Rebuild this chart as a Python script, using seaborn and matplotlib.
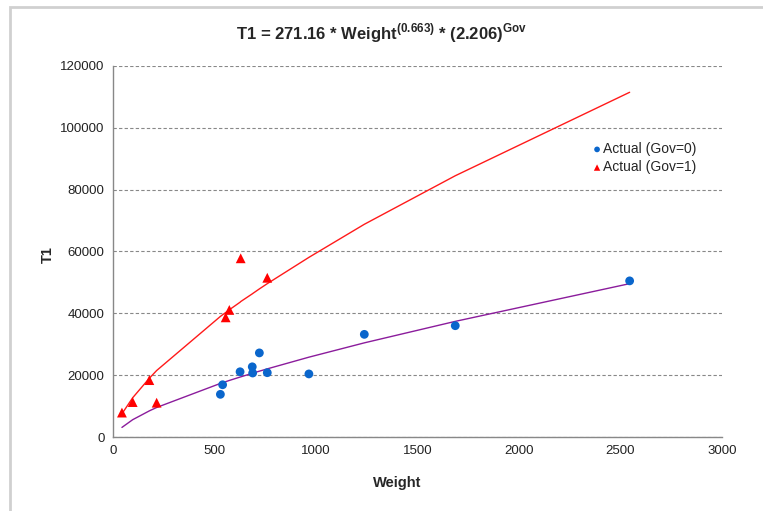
import matplotlib
matplotlib.use("Agg")
import matplotlib.pyplot as plt
import pandas as pd
import seaborn as sns
from matplotlib.patches import Rectangle

# observed points
weight_gov0 = [529, 540, 626, 686, 688, 721, 760, 965, 1238, 1686, 2545]
t1_gov0 = [13800, 16900, 21100, 22700, 20700, 27200, 20800, 20400, 33200, 36000, 50500]
weight_gov1 = [44, 97, 179, 215, 555, 573, 629, 760]
t1_gov1 = [7900, 11300, 18400, 11100, 38700, 41100, 57800, 51500]

# fitted curves
fit_weight = [44, 97, 179, 215, 529, 540, 555, 573, 626, 629, 686, 688, 721, 760,
              965, 1238, 1686, 2545]
fit_gov0 = [3100, 5600, 8450, 9550, 17330, 17570, 17890, 18290, 19390, 19450,
            20590, 20630, 21290, 22040, 25820, 30450, 37400, 49600]
fit_gov1 = [7500, 12700, 19000, 21500, 39000, 39540, 40250, 41150, 43600, 43800,
            46300, 46400, 47900, 49600, 58100, 68800, 84500, 111500]

y_ticks = [0, 20000, 40000, 60000, 80000, 100000, 120000]
x_ticks = [0, 500, 1000, 1500, 2000, 2500, 3000]

sns.set_theme(style="white")
plt.rcParams["font.family"] = ["Liberation Sans", "DejaVu Sans"]
plt.rcParams["mathtext.fontset"] = "custom"
plt.rcParams["mathtext.rm"] = "Liberation Sans"
plt.rcParams["mathtext.bf"] = "Liberation Sans:bold"

fig = plt.figure(figsize=(7.63, 5.11), dpi=100)
fig.patches.append(Rectangle((10 / 763, -0.1), 1.2, 1 - 7 / 511 + 0.1,
                             transform=fig.transFigure, fill=False,
                             edgecolor="#d0d0d0", linewidth=2))
ax = fig.add_axes([113 / 763, 1 - 437 / 511, 609 / 763, 371 / 511])

fit = pd.DataFrame({"Weight": fit_weight, "gov0": fit_gov0, "gov1": fit_gov1})
sns.lineplot(data=fit, x="Weight", y="gov1", color="#ff1a1a", linewidth=1.0,
             estimator=None, sort=False, ax=ax)
sns.lineplot(data=fit, x="Weight", y="gov0", color="#8b1c9c", linewidth=1.0,
             estimator=None, sort=False, ax=ax)

sns.scatterplot(x=weight_gov0, y=t1_gov0, marker="o", s=40, color="#0a66cc",
                edgecolor="none", label="Actual (Gov=0)", ax=ax, zorder=3)
sns.scatterplot(x=weight_gov1, y=t1_gov1, marker="^", s=50, color="#ff0000",
                edgecolor="none", label="Actual (Gov=1)", ax=ax, zorder=3)

ax.set_xlim(0, 3000)
ax.set_ylim(0, 120000)
ax.set_xticks(x_ticks)
ax.set_yticks(y_ticks)
ax.tick_params(labelsize=9.5, colors="#222222", length=0, pad=6)
ax.grid(axis="y", linestyle=(0, (3, 2)), color="#888888", linewidth=0.8)
ax.set_axisbelow(True)
for side in ["top", "right"]:
    ax.spines[side].set_visible(False)
for side in ["left", "bottom"]:
    ax.spines[side].set_color("#888888")
    ax.spines[side].set_linewidth(1.0)
ax.set_xlabel("")
ax.set_ylabel("")

fig.text(48 / 763, 1 - 255 / 511, "T1", rotation=90, fontsize=10.5,
         fontweight="bold", ha="center", va="center")
fig.text(397 / 763, 1 - 483 / 511, "Weight", fontsize=10.5, fontweight="bold",
         ha="center", va="center")
fig.text(381 / 763, 1 - 33 / 511,
         r"T1 = 271.16 * Weight$^{\mathbf{(0.663)}}$ * (2.206)$^{\mathbf{Gov}}$",
         fontsize=12, fontweight="bold", ha="center", va="center")

leg = ax.legend(loc="upper left", bbox_to_anchor=(0.788, 0.795), frameon=False,
                fontsize=10, handletextpad=0.15, labelspacing=0.3,
                handlelength=0.6, borderaxespad=0, borderpad=0,
                markerscale=0.65)

fig.savefig("out.png", dpi=100)
